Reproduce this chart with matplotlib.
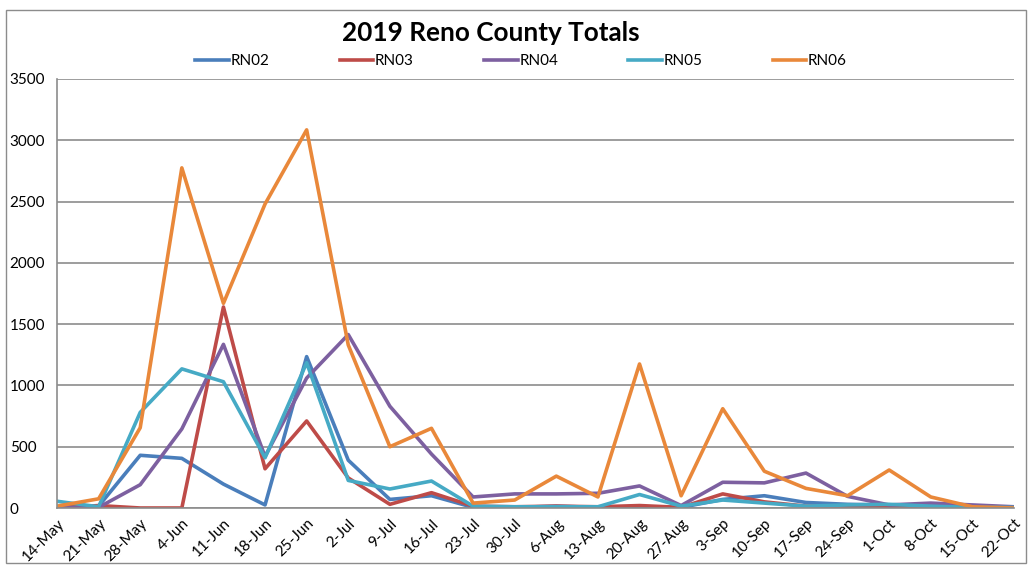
import matplotlib

matplotlib.use("Agg")
import matplotlib.pyplot as plt  # noqa: E402
from matplotlib.patches import Rectangle  # noqa: E402

weeks = ["14-May", "21-May", "28-May", "4-Jun", "11-Jun", "18-Jun", "25-Jun",
         "2-Jul", "9-Jul", "16-Jul", "23-Jul", "30-Jul", "6-Aug", "13-Aug",
         "20-Aug", "27-Aug", "3-Sep", "10-Sep", "17-Sep", "24-Sep", "1-Oct",
         "8-Oct", "15-Oct", "22-Oct"]

rn02 = [10, 15, 430, 405, 195, 25, 1235, 390, 70, 100, 5, 5, 15, 5,
        10, 5, 70, 100, 45, 30, 25, 15, 10, 5]
rn03 = [0, 20, 0, 0, 1640, 320, 710, 245, 30, 125, 15, 10, 15, 10,
        20, 5, 115, 50, 15, 15, 10, 5, 5, 5]
rn04 = [0, 5, 190, 645, 1335, 420, 1060, 1415, 830, 440, 90, 115, 115, 120,
        180, 20, 210, 205, 285, 95, 25, 40, 25, 10]
rn05 = [55, 10, 780, 1135, 1030, 410, 1185, 225, 155, 220, 15, 10, 10, 10,
        110, 15, 65, 40, 15, 25, 30, 15, 5, 5]
rn06 = [15, 75, 655, 2775, 1670, 2480, 3085, 1330, 500, 650, 40, 65, 260, 90,
        1175, 100, 810, 300, 160, 100, 310, 90, 10, 0]

series = {"RN02": rn02, "RN03": rn03, "RN04": rn04, "RN05": rn05, "RN06": rn06}
colors = {"RN02": "#4A7EBB", "RN03": "#BE4B48", "RN04": "#7D60A0",
          "RN05": "#46AAC5", "RN06": "#E9883A"}

plt.rcParams["font.family"] = ["Lato", "DejaVu Sans"]

fig = plt.figure(figsize=(10.31, 5.73), dpi=100)
ax = fig.add_axes([57 / 1031, 1 - 508 / 573, (1014 - 57) / 1031, (508 - 79) / 573])

x = list(range(len(weeks)))
for name, vals in series.items():
    ax.plot(x, vals, color=colors[name], linewidth=2.6, label=name)

ax.set_xlim(0, len(weeks) - 1)
ax.set_ylim(0, 3500)
ax.set_yticks(range(0, 3501, 500))
ax.set_xticks(x)
ax.set_xticklabels(weeks, rotation=45, ha="right", rotation_mode="anchor",
                   fontsize=11)
ax.tick_params(axis="x", length=0, pad=6)
ax.tick_params(axis="y", length=0, labelsize=11, pad=34)
for lbl in ax.get_yticklabels():
    lbl.set_horizontalalignment("left")

ax.grid(axis="y", color="#8C8C8C", linewidth=1.2)
ax.set_axisbelow(True)
for s in ["top", "right"]:
    ax.spines[s].set_visible(False)
for s in ["left", "bottom"]:
    ax.spines[s].set_color("#8C8C8C")
    ax.spines[s].set_linewidth(1.2)

fig.text(491 / 1031, 1 - 33 / 573, "2019 Reno County Totals", ha="center",
         va="center", fontsize=18.8, fontweight="bold")
fig.legend(loc="center", bbox_to_anchor=(521 / 1031, 1 - 61 / 573), ncol=5,
           frameon=False, fontsize=11, handlelength=2.2, handletextpad=0.1,
           columnspacing=4.6)

fig.patches.append(Rectangle((6 / 1031, 1 - 563 / 573), 1020 / 1031, 553 / 573,
                             transform=fig.transFigure, fill=False,
                             edgecolor="#8C8C8C", linewidth=1.0))

fig.savefig("out.png", dpi=100)
